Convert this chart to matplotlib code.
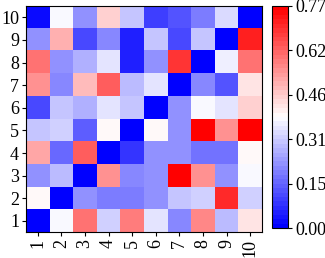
import numpy as np
import matplotlib
matplotlib.use("Agg")
import matplotlib.pyplot as plt

plt.rcParams['font.family'] = 'serif'
plt.rcParams['font.serif'] = ['Liberation Serif', 'Times New Roman', 'DejaVu Serif']

labels = [str(i) for i in range(1, 11)]

# rows from 1 (bottom) to 10 (top), columns 1..10
row1 = [0.00, 0.37, 0.59, 0.32, 0.58, 0.35, 0.21, 0.56, 0.29, 0.43]
row2 = [0.40, 0.00, 0.22, 0.19, 0.19, 0.22, 0.30, 0.32, 0.70, 0.31]
row3 = [0.23, 0.28, 0.00, 0.54, 0.21, 0.23, 0.77, 0.54, 0.23, 0.37]
row4 = [0.51, 0.16, 0.62, 0.00, 0.085, 0.23, 0.23, 0.18, 0.18, 0.40]
row5 = [0.30, 0.32, 0.14, 0.40, 0.00, 0.40, 0.23, 0.77, 0.54, 0.77]
row6 = [0.12, 0.30, 0.27, 0.35, 0.30, 0.00, 0.22, 0.37, 0.34, 0.45]
row7 = [0.54, 0.21, 0.48, 0.62, 0.28, 0.35, 0.00, 0.21, 0.13, 0.43]
row8 = [0.60, 0.23, 0.27, 0.35, 0.05, 0.23, 0.68, 0.00, 0.36, 0.60]
row9 = [0.23, 0.50, 0.12, 0.21, 0.05, 0.30, 0.12, 0.30, 0.00, 0.71]
row10 = [0.02, 0.37, 0.23, 0.46, 0.30, 0.10, 0.13, 0.19, 0.33, 0.00]

data = np.array([row1, row2, row3, row4, row5, row6, row7, row8, row9, row10])
vmin, vmax = 0.0, 0.77

fig = plt.figure(figsize=(3.25, 2.58), dpi=100)
ax = fig.add_axes([0.08, 0.1, 0.726, 0.877])
cax = fig.add_axes([0.837, 0.116, 0.049, 0.861])

cmap = plt.get_cmap('bwr', 50)
im = ax.imshow(data, cmap=cmap, vmin=vmin, vmax=vmax, origin='lower',
               aspect='auto', interpolation='nearest')
ax.set_xticks(range(10))
ax.set_xticklabels(labels, rotation=90, fontsize=13)
ax.set_yticks(range(10))
ax.set_yticklabels(labels, fontsize=13)
ax.tick_params(length=3, pad=2)

cb = fig.colorbar(im, cax=cax)
ticks = np.linspace(vmin, vmax, 6)
cb.set_ticks(ticks)
cb.set_ticklabels([f"{t:.2f}" for t in ticks])
cb.ax.tick_params(labelsize=13, length=3, pad=2)

fig.savefig("out.png", dpi=100)
